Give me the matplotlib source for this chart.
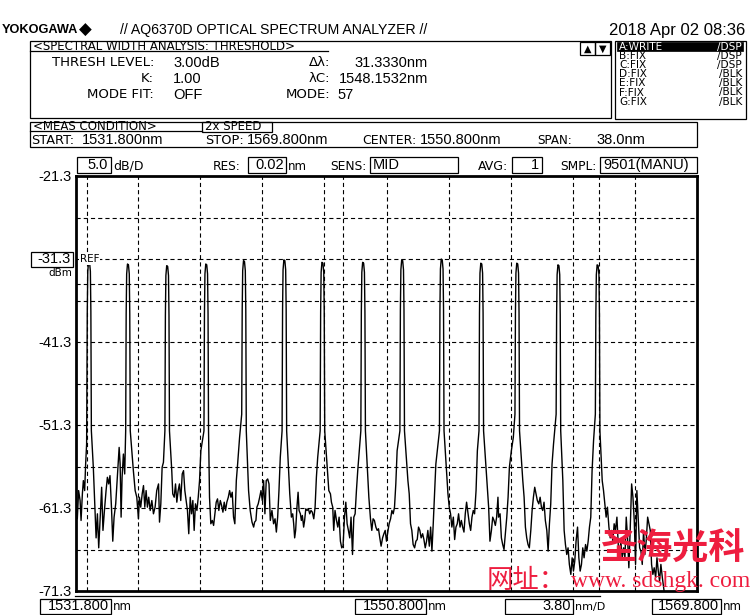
import matplotlib
matplotlib.use("Agg")
import matplotlib.pyplot as plt
from matplotlib.patches import Rectangle
from matplotlib.lines import Line2D

plt.rcParams['lines.scale_dashes'] = False

# ---------------- data ----------------
x_start, x_stop = 1531.8, 1569.8
y_top, y_bottom = -21.3, -71.3
y_labels = ["-21.3", "-31.3", "-41.3", "-51.3", "-61.3", "-71.3"]
ref_dbm = -31.3
thresh_dbm = -34.3
marker_nm = [1532.487, 1548.1532, 1563.820]

trace_nm = [
    1531.80, 1531.88, 1531.96, 1532.05, 1532.11, 1532.19, 1532.25, 1532.33, 1532.39, 1532.45,
    1532.47, 1532.49, 1532.52, 1532.57, 1532.63, 1532.68, 1532.71, 1532.74,
    1532.86, 1532.96, 1533.03, 1533.11, 1533.19, 1533.27, 1533.37, 1533.45, 1533.54, 1533.64,
    1533.72, 1533.80, 1533.88, 1533.97, 1534.05, 1534.13, 1534.23, 1534.33, 1534.44, 1534.50,
    1534.56, 1534.62, 1534.70, 1534.78,
    1534.84, 1534.87, 1534.90, 1534.95, 1535.01, 1535.06, 1535.09, 1535.12,
    1535.31, 1535.42, 1535.52, 1535.62, 1535.68, 1535.76, 1535.85, 1535.93, 1536.01, 1536.09,
    1536.17, 1536.25, 1536.34, 1536.44, 1536.54, 1536.64, 1536.74, 1536.85, 1536.91, 1536.99,
    1537.07, 1537.15,
    1537.24, 1537.27, 1537.30, 1537.35, 1537.41, 1537.46, 1537.49, 1537.52,
    1537.66, 1537.72, 1537.81, 1537.89, 1537.97, 1538.05, 1538.13, 1538.21, 1538.30, 1538.38,
    1538.46, 1538.54, 1538.62, 1538.70, 1538.79, 1538.87, 1538.95, 1539.03, 1539.11, 1539.20,
    1539.28, 1539.36, 1539.44,
    1539.63, 1539.66, 1539.69, 1539.74, 1539.80, 1539.85, 1539.88, 1539.91,
    1539.97, 1540.05, 1540.14, 1540.22, 1540.30, 1540.38, 1540.46, 1540.54, 1540.63, 1540.71,
    1540.79, 1540.87, 1540.95, 1541.03, 1541.12, 1541.20, 1541.28, 1541.36, 1541.44, 1541.52,
    1541.61, 1541.69, 1541.81,
    1541.94, 1541.97, 1542.00, 1542.05, 1542.11, 1542.16, 1542.19, 1542.22,
    1542.36, 1542.46, 1542.57, 1542.67, 1542.73, 1542.81, 1542.87, 1542.95, 1543.04, 1543.12,
    1543.20, 1543.28, 1543.36, 1543.44, 1543.53, 1543.61, 1543.69, 1543.79, 1543.89, 1543.98,
    1544.06, 1544.14, 1544.22, 1544.30,
    1544.41, 1544.44, 1544.47, 1544.52, 1544.58, 1544.63, 1544.66, 1544.69,
    1544.88, 1544.98, 1545.06, 1545.12, 1545.18, 1545.24, 1545.32, 1545.39, 1545.45, 1545.53,
    1545.59, 1545.65, 1545.73, 1545.79, 1545.86, 1545.94, 1546.02, 1546.10, 1546.18, 1546.26,
    1546.35, 1546.43, 1546.51, 1546.59,
    1546.74, 1546.77, 1546.80, 1546.85, 1546.91, 1546.96, 1546.99, 1547.02,
    1547.27, 1547.37, 1547.43, 1547.51, 1547.57, 1547.65, 1547.74, 1547.82, 1547.90, 1547.98,
    1548.06, 1548.14, 1548.23, 1548.31, 1548.39, 1548.47, 1548.55, 1548.63, 1548.72, 1548.80,
    1548.88, 1548.96, 1549.04,
    1549.23, 1549.26, 1549.29, 1549.34, 1549.40, 1549.45, 1549.48, 1549.51,
    1549.72, 1549.82, 1549.90, 1549.98, 1550.06, 1550.15, 1550.23, 1550.31, 1550.39, 1550.47,
    1550.56, 1550.64, 1550.72, 1550.80, 1550.88, 1550.96, 1551.05, 1551.13, 1551.21, 1551.29,
    1551.37, 1551.45,
    1551.62, 1551.65, 1551.68, 1551.73, 1551.79, 1551.84, 1551.87, 1551.90,
    1552.11, 1552.19, 1552.27, 1552.35, 1552.43, 1552.52, 1552.60, 1552.68, 1552.76, 1552.84,
    1552.92, 1553.01, 1553.09, 1553.17, 1553.25, 1553.33, 1553.42, 1553.50, 1553.58, 1553.66,
    1553.74, 1553.82,
    1554.04, 1554.07, 1554.10, 1554.15, 1554.21, 1554.26, 1554.29, 1554.32,
    1554.56, 1554.64, 1554.72, 1554.80, 1554.89, 1554.97, 1555.05, 1555.13, 1555.21, 1555.30,
    1555.38, 1555.46, 1555.54, 1555.62, 1555.70, 1555.79, 1555.87, 1555.95, 1556.03, 1556.11,
    1556.19, 1556.28, 1556.36,
    1556.46, 1556.49, 1556.52, 1556.57, 1556.63, 1556.68, 1556.71, 1556.74,
    1557.05, 1557.13, 1557.22, 1557.30, 1557.38, 1557.46, 1557.54, 1557.62, 1557.66, 1557.75,
    1557.83, 1557.91, 1557.99, 1558.07, 1558.16, 1558.24, 1558.32, 1558.44, 1558.56,
    1558.66, 1558.69, 1558.72, 1558.77, 1558.83, 1558.88, 1558.91, 1558.94,
    1559.14, 1559.22, 1559.30, 1559.38, 1559.46, 1559.54, 1559.63, 1559.71, 1559.79, 1559.87,
    1559.95, 1560.03, 1560.12, 1560.20, 1560.28, 1560.36, 1560.44, 1560.52, 1560.61, 1560.69,
    1560.77, 1560.85, 1560.93, 1561.02,
    1561.18, 1561.21, 1561.24, 1561.29, 1561.35, 1561.40, 1561.43, 1561.46,
    1561.59, 1561.67, 1561.75, 1561.83, 1561.91, 1561.99, 1562.08, 1562.16, 1562.24, 1562.32,
    1562.40, 1562.49, 1562.57, 1562.65, 1562.73, 1562.81, 1562.89, 1562.98, 1563.06, 1563.14,
    1563.22, 1563.30, 1563.38, 1563.47,
    1563.58, 1563.61, 1563.64, 1563.69, 1563.75, 1563.80, 1563.83, 1563.86,
    1564.00, 1564.08, 1564.16, 1564.24, 1564.32, 1564.41, 1564.49, 1564.57, 1564.65, 1564.73,
    1564.81, 1564.90, 1564.98, 1565.06, 1565.14, 1565.22, 1565.31, 1565.39, 1565.47, 1565.55,
    1565.63, 1565.71, 1565.80, 1565.88, 1565.96, 1566.04, 1566.12, 1566.20, 1566.29, 1566.37,
    1566.45, 1566.53, 1566.61, 1566.69, 1566.78, 1566.86, 1566.94, 1567.02, 1567.10, 1567.18,
    1567.27, 1567.35, 1567.43, 1567.51, 1567.59, 1567.68, 1567.76, 1567.84, 1568.00, 1569.80,
]

trace_dbm = [
    -61.6, -62.6, -59.2, -60.4, -62.8, -59.6, -58.0, -59.2, -56.0, -53.6,
    -46.0, -37.6, -32.8, -31.6, -31.7, -32.8, -37.6, -52.0,
    -56.4, -61.6, -64.9, -62.0, -66.1, -62.8, -58.8, -64.0, -61.6, -59.2,
    -57.6, -58.4, -57.4, -61.2, -65.3, -62.4, -60.8, -57.6, -54.0, -56.0,
    -62.4, -57.6, -54.8, -57.2,
    -52.0, -37.9, -33.1, -31.9, -32.0, -33.1, -37.9, -52.0,
    -56.8, -59.2, -60.0, -62.6, -60.0, -61.2, -59.6, -58.6, -61.2, -59.2,
    -61.2, -60.0, -61.6, -60.4, -62.0, -61.2, -59.2, -58.4, -63.0, -60.8,
    -56.4, -55.8,
    -52.0, -38.1, -33.3, -32.1, -32.2, -33.3, -38.1, -52.0,
    -56.8, -59.6, -60.0, -58.4, -60.6, -59.2, -58.4, -60.4, -57.2, -56.8,
    -59.2, -60.4, -61.6, -64.4, -60.0, -62.0, -60.4, -64.0, -60.8, -61.6,
    -60.0, -58.0, -54.4,
    -52.0, -37.9, -33.1, -31.9, -32.0, -33.1, -37.9, -52.0,
    -60.0, -63.2, -62.8, -63.4, -62.0, -60.6, -60.2, -61.6, -60.4, -61.0,
    -61.8, -60.6, -61.6, -60.6, -60.0, -59.2, -60.0, -59.4, -62.4, -63.2,
    -58.0, -56.0, -52.8,
    -50.0, -37.5, -32.7, -31.5, -31.6, -32.7, -37.5, -52.0,
    -59.2, -61.6, -63.0, -63.6, -63.0, -62.8, -61.2, -60.8, -60.0, -59.2,
    -60.4, -58.0, -62.0, -58.0, -57.8, -58.4, -62.8, -61.6, -63.2, -62.6,
    -64.2, -62.4, -59.2, -55.2,
    -52.0, -37.4, -32.6, -31.4, -31.5, -32.6, -37.4, -52.0,
    -59.6, -62.4, -62.0, -63.2, -64.9, -64.0, -61.2, -59.4, -61.6, -62.0,
    -62.8, -62.2, -63.6, -62.8, -61.4, -61.6, -61.4, -62.0, -61.6, -61.8,
    -62.6, -61.2, -57.6, -55.2,
    -52.0, -37.7, -32.9, -31.7, -31.8, -32.9, -37.7, -52.0,
    -59.2, -59.6, -60.6, -61.2, -64.0, -61.6, -62.8, -63.6, -62.4, -65.3,
    -66.1, -65.9, -62.4, -60.6, -63.2, -64.0, -64.9, -62.4, -66.9, -62.4,
    -62.0, -59.2, -56.8,
    -52.0, -37.7, -32.9, -31.7, -31.8, -32.9, -37.7, -52.0,
    -60.0, -62.6, -64.0, -62.6, -62.8, -63.6, -64.0, -63.8, -64.9, -65.9,
    -64.9, -64.4, -64.0, -65.3, -64.2, -63.2, -62.6, -61.6, -62.0, -61.2,
    -58.4, -54.4,
    -52.0, -37.4, -32.6, -31.4, -31.5, -32.6, -37.4, -52.0,
    -58.0, -59.6, -63.2, -64.0, -65.7, -66.1, -65.3, -65.1, -63.6, -64.0,
    -64.9, -64.4, -65.1, -66.1, -65.3, -64.0, -65.9, -63.6, -66.5, -63.2,
    -59.6, -56.0,
    -52.0, -37.3, -32.5, -31.3, -31.4, -32.5, -37.3, -52.0,
    -59.6, -61.2, -62.0, -63.6, -62.4, -65.1, -63.6, -63.2, -62.0, -63.6,
    -62.8, -63.6, -64.2, -62.0, -60.6, -62.0, -63.2, -64.0, -62.4, -61.6,
    -62.0, -59.2, -54.4,
    -52.0, -37.8, -33.0, -31.8, -31.9, -33.0, -37.8, -52.0,
    -61.2, -65.3, -64.0, -62.4, -62.8, -63.4, -62.4, -60.0, -62.4, -62.0,
    -64.9, -65.7, -66.3, -64.4, -62.4, -60.0, -56.4, -54.4, -52.8,
    -50.0, -37.8, -33.0, -31.8, -31.9, -33.0, -37.8, -52.0,
    -58.0, -60.0, -63.6, -64.9, -65.7, -66.1, -64.0, -61.6, -60.0, -58.8,
    -59.6, -60.4, -60.8, -60.0, -61.2, -61.6, -60.6, -62.8, -64.0, -66.5,
    -63.2, -60.8, -56.0, -53.6,
    -50.0, -38.0, -33.2, -32.0, -32.1, -33.2, -38.0, -52.0,
    -58.0, -64.0, -65.7, -66.9, -66.1, -68.1, -69.3, -67.3, -68.9, -67.7,
    -65.3, -63.6, -67.3, -68.9, -68.1, -66.1, -67.3, -65.7, -66.5, -65.3,
    -63.6, -62.4, -56.8, -53.2,
    -50.0, -38.0, -33.2, -32.0, -32.1, -33.2, -38.0, -52.0,
    -58.0, -59.2, -60.8, -62.4, -61.2, -63.6, -64.9, -64.0, -65.3, -63.2,
    -64.0, -62.4, -65.7, -66.9, -65.3, -67.3, -66.1, -67.3, -62.4, -64.9,
    -68.5, -64.0, -58.4, -60.0, -62.8, -68.1, -59.2, -62.4, -66.1, -66.5,
    -68.1, -64.0, -66.9, -65.3, -62.4, -63.2, -64.0, -68.1, -69.3, -68.5,
    -69.7, -67.3, -68.9, -70.1, -68.1, -69.7, -70.9, -72.1, -74.5, -75.0,
]

# ---------------- figure ----------------
W, H = 750, 615
fig = plt.figure(figsize=(W / 100, H / 100), dpi=100)
fig.patch.set_facecolor("white")

def fx(px):
    return px / W

def fy(py):
    return 1 - py / H

LAB = ["DejaVu Sans"]
NUMW = ["Liberation Sans", "DejaVu Sans"]

def T(x, y, s, size=8, ha="left", va="center", fam=LAB, color="black", weight="normal", z=5):
    fig.text(fx(x), fy(y), s, fontsize=size, ha=ha, va=va, family=fam,
             color=color, fontweight=weight, zorder=z)

def R(x0, y0, x1, y1, lw=0.9, fill=False, fc="black"):
    fig.add_artist(Rectangle((fx(x0), fy(y1)), (x1 - x0) / W, (y1 - y0) / H,
                             transform=fig.transFigure, fill=fill,
                             facecolor=fc if fill else "none",
                             edgecolor="black", lw=lw, zorder=3))

def L(x0, y0, x1, y1, lw=0.9):
    fig.add_artist(Line2D([fx(x0), fx(x1)], [fy(y0), fy(y1)],
                          transform=fig.transFigure, color="black", lw=lw, zorder=3))

# header
T(2, 30, "YOKOGAWA", 9.2, fam=NUMW, weight="bold")
T(79, 30, "\u25C6", 12, fam=["DejaVu Sans"])
T(120, 30, "// AQ6370D OPTICAL SPECTRUM ANALYZER //", 10.2, fam=NUMW)
T(745, 30, "2018 Apr 02 08:36", 12, ha="right", fam=NUMW)

# spectral width box
R(30, 41, 611, 118)
L(30, 51, 328, 51)
T(33, 46.5, "<SPECTRAL WIDTH ANALYSIS: THRESHOLD>", 8.5)
R(580, 42, 595, 55)
R(595, 42, 610, 55)
T(587.5, 48.5, "\u25B2", 7, ha="center", fam=["DejaVu Sans"])
T(602.5, 48.5, "\u25BC", 7, ha="center", fam=["DejaVu Sans"])

T(154, 63, "THRESH LEVEL:", 9.5, ha="right")
T(173, 63, "3.00dB", 10.5, fam=NUMW)
T(154, 79, "K:", 9.5, ha="right")
T(173, 79, "1.00", 10.5, fam=NUMW)
T(154, 95, "MODE FIT:", 9.5, ha="right")
T(173, 95, "OFF", 10.5, fam=NUMW)
T(330, 63, "\u0394\u03bb:", 9.5, ha="right")
T(428, 63, "31.3330nm", 10.5, ha="right", fam=NUMW)
T(330, 79, "\u03bbC:", 9.5, ha="right")
T(428, 79, "1548.1532nm", 10.5, ha="right", fam=NUMW)
T(330, 95, "MODE:", 9.5, ha="right")
T(337, 95, "57", 10.5, fam=NUMW)

# trace list box
R(615, 41, 746, 119)
R(617, 42, 743, 51, lw=0.5, fill=True)
rows = [("A:WRITE", "/DSP"), ("B:FIX", "/DSP"), ("C:FIX", "/DSP"), ("D:FIX", "/BLK"),
        ("E:FIX", "/BLK"), ("F:FIX", "/BLK"), ("G:FIX", "/BLK")]
for i, (a, b) in enumerate(rows):
    yy = 47 + i * 9.1
    c = "white" if i == 0 else "black"
    T(619, yy, a, 7.6, color=c)
    T(742, yy, b, 7.6, ha="right", color=c)

# meas condition box
R(30, 122, 697, 147)
L(30, 131, 202, 131)
T(33, 126.5, "<MEAS CONDITION>", 8.5)
R(202, 122, 272, 132)
T(205, 127, "2x SPEED", 8.5)
T(31, 140, "START:", 9.3)
T(82, 139.5, "1531.800nm", 10.5, fam=NUMW)
T(205, 140, "STOP:", 9.3)
T(247, 139.5, "1569.800nm", 10.5, fam=NUMW)
T(362, 140, "CENTER:", 9.0)
T(420, 139.5, "1550.800nm", 10.5, fam=NUMW)
T(537, 140, "SPAN:", 8.6)
T(645, 139.5, "38.0nm", 10.5, ha="right", fam=NUMW)

# settings row
R(77, 157, 111, 173)
T(108, 165, "5.0", 10.5, ha="right", fam=NUMW)
T(113, 166, "dB/D", 9)
T(213, 166, "RES:", 8.7)
R(248, 157, 286, 173)
T(284, 165, "0.02", 10.5, ha="right", fam=NUMW)
T(288, 166, "nm", 8.5)
T(330, 166, "SENS:", 8.8)
R(370, 157, 458, 173)
T(373, 165, "MID", 10.5, fam=NUMW)
T(478, 166, "AVG:", 9)
R(512, 157, 542, 173)
T(539, 165, "1", 10.5, ha="right", fam=NUMW)
T(560, 166, "SMPL:", 8.7)
R(600, 157, 697, 173)
T(603, 165, "9501(MANU)", 10.5, fam=NUMW)

# y labels
ypix = [176, 259, 342, 425, 508, 591]
for lab, yp in zip(y_labels, ypix):
    if lab == "-31.3":
        R(31, 252, 73, 267)
        T(71, yp, lab, 10.5, ha="right", fam=NUMW)
        T(72, 273, "dBm", 7.5, ha="right")
    else:
        T(72, yp + 1, lab, 10.5, ha="right", fam=NUMW)

# bottom labels
R(40, 599, 111, 614)
T(109, 606, "1531.800", 10.5, ha="right", fam=NUMW)
T(113, 607, "nm", 8.5)
R(355, 599, 426, 614)
T(424, 606, "1550.800", 10.5, ha="right", fam=NUMW)
T(428, 607, "nm", 8.5)
R(505, 599, 573, 614)
T(571, 606, "3.80", 10.5, ha="right", fam=NUMW)
T(575, 607, "nm/D", 8)
R(652, 599, 721, 614)
T(719, 606, "1569.800", 10.5, ha="right", fam=NUMW)
T(723, 607, "nm", 8.5)
L(75, 596, 600, 596, lw=0.9)

# ---------------- plot area ----------------
ax = fig.add_axes([fx(76), fy(591), (697 - 76) / W, (591 - 176) / H])
ax.set_xlim(x_start, x_stop)
ax.set_ylim(y_bottom, y_top)
ax.set_xticks([])
ax.set_yticks([])
for s in ax.spines.values():
    s.set_linewidth(2.0)
dash = (0, (3.0, 2.2))
div_x = (x_stop - x_start) / 10
div_y = (y_top - y_bottom) / 10
for i in range(1, 10):
    ax.axvline(x_start + i * div_x, color="black", lw=0.8, ls=dash, zorder=1)
    ax.axhline(y_bottom + i * div_y, color="black", lw=0.8, ls=dash, zorder=1)
ax.axhline(thresh_dbm, color="black", lw=0.8, ls=dash, zorder=1)
for m in marker_nm:
    ax.axvline(m, color="black", lw=0.8, ls=dash, zorder=1)
ax.plot(trace_nm, trace_dbm, color="black", lw=1.0, zorder=2)
ax.text(0.006, ref_dbm, "REF", transform=ax.get_yaxis_transform(), fontsize=7.5,
        ha="left", va="center", family=LAB, zorder=3,
        bbox=dict(facecolor="white", edgecolor="none", pad=0.5))

# ---------------- watermark ----------------
RED = "#ee1d3f"
T(745, 549, "圣海光科", 26, ha="right", fam=["Noto Sans CJK SC"], color=RED, weight="bold", z=10)
T(487, 581, "网址：", 19, fam=["Noto Sans CJK SC"], color=RED, z=10)
T(750, 581, "www. sdshgk. com", 17, ha="right", fam=["Liberation Serif"], color=RED, z=10)

fig.savefig("out.png", dpi=100)
